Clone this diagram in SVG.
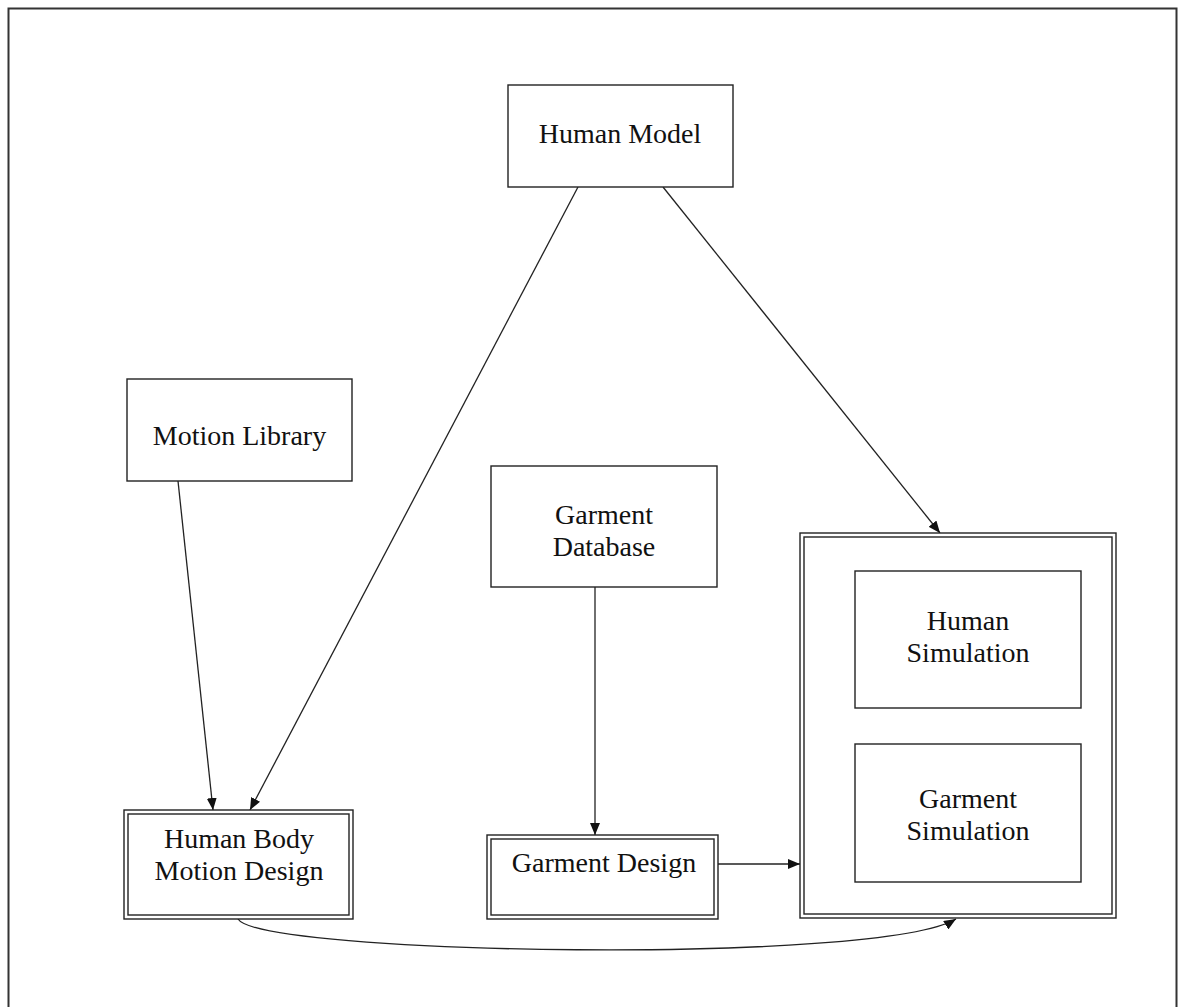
<svg xmlns="http://www.w3.org/2000/svg" width="1178" height="1007" viewBox="0 0 1178 1007">
  <defs>
    <marker id="arr" viewBox="0 0 12 10" refX="12" refY="5" markerWidth="12" markerHeight="10" markerUnits="userSpaceOnUse" orient="auto">
      <path d="M0,0 L12,5 L0,10 z" fill="#111"/>
    </marker>
  </defs>
  <style>
    .box { fill: #fff; stroke: #222; stroke-width: 1.4; }
    .lbl { font-family: "Liberation Serif", "Times New Roman", serif; font-size: 28px; fill: #111; text-anchor: middle; }
    .edge { fill: none; stroke: #222; stroke-width: 1.3; marker-end: url(#arr); }
  </style>
  <rect x="0" y="0" width="1178" height="1007" fill="#fff"/>
  <path d="M8.5,1007 V8.5 H1176.5 V1007" fill="none" stroke="#333" stroke-width="2"/>

  <g id="connectors">
    <path class="edge" d="M578,187 L250,810"/>
    <path class="edge" d="M663,187 L940,533"/>
    <path class="edge" d="M178,481 L213,810"/>
    <path class="edge" d="M595,587 L595,835"/>
    <path class="edge" d="M718,864 L800,864"/>
    <path class="edge" d="M977,708 L977,744"/>
    <path class="edge" d="M238,919 C260,955 880,965 956,919"/>
  </g>

  <g id="human-model">
    <rect class="box" x="508" y="85" width="225" height="102"/>
    <text class="lbl" x="620" y="143">Human Model</text>
  </g>

  <g id="motion-library">
    <rect class="box" x="127" y="379" width="225" height="102"/>
    <text class="lbl" x="239.5" y="445">Motion Library</text>
  </g>

  <g id="garment-database">
    <rect class="box" x="491" y="466" width="226" height="121"/>
    <text class="lbl" x="604" y="524">Garment</text>
    <text class="lbl" x="604" y="556">Database</text>
  </g>

  <g id="human-body-motion-design">
    <rect class="box" x="124" y="810" width="229" height="109"/>
    <rect class="box" x="128" y="814" width="221" height="101"/>
    <text class="lbl" x="239" y="848">Human Body</text>
    <text class="lbl" x="239" y="880">Motion Design</text>
  </g>

  <g id="garment-design">
    <rect class="box" x="487" y="835" width="231" height="84"/>
    <rect class="box" x="491" y="839" width="223" height="76"/>
    <text class="lbl" x="604" y="872">Garment Design</text>
  </g>

  <g id="simulation">
    <rect class="box" x="800" y="533" width="316" height="385"/>
    <rect class="box" x="804" y="537" width="308" height="377"/>
  </g>

  <g id="human-simulation">
    <rect class="box" x="855" y="571" width="226" height="137"/>
    <text class="lbl" x="968" y="630">Human</text>
    <text class="lbl" x="968" y="662">Simulation</text>
  </g>

  <g id="garment-simulation">
    <rect class="box" x="855" y="744" width="226" height="138"/>
    <text class="lbl" x="968" y="808">Garment</text>
    <text class="lbl" x="968" y="840">Simulation</text>
  </g>
</svg>
